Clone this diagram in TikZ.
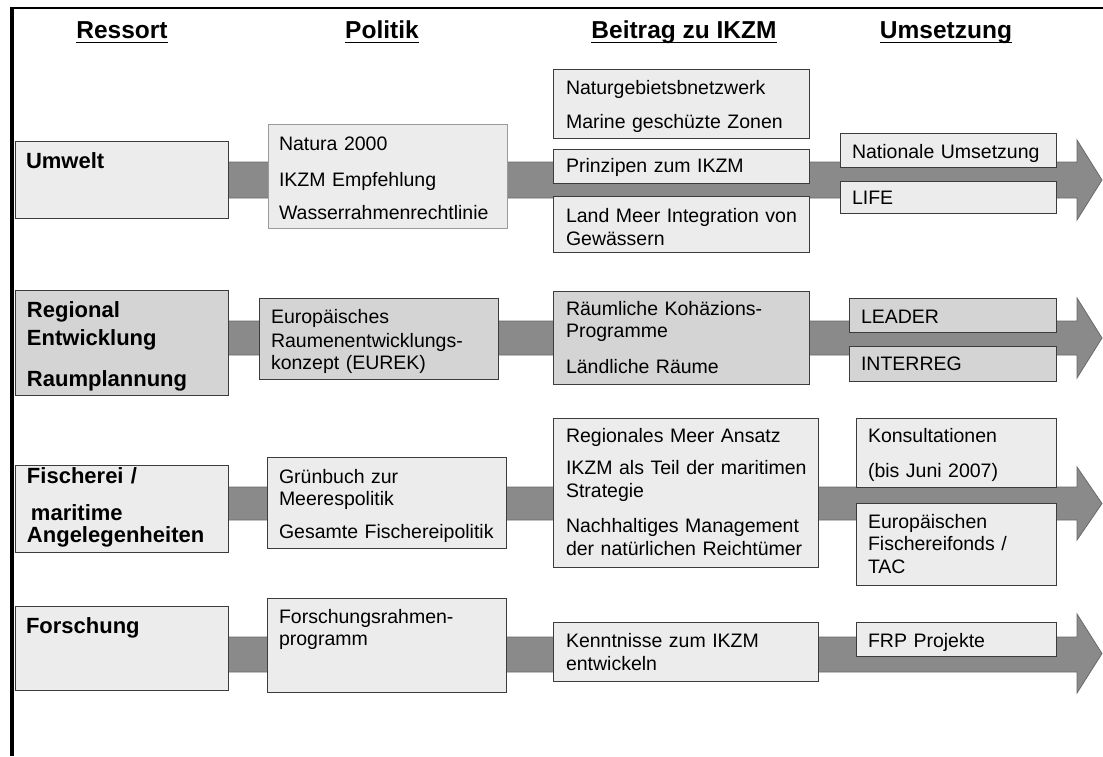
\documentclass[tikz,border=0pt]{standalone}
\usepackage{fontspec}
\setmainfont{Liberation Sans}
\definecolor{lt}{HTML}{ECECEC}
\definecolor{dk}{HTML}{D4D4D4}
\definecolor{bandfill}{HTML}{8A8A8A}
\definecolor{bandline}{HTML}{6A6A6A}
\definecolor{edge}{HTML}{3C3C3C}
\definecolor{natb}{HTML}{9A9A9A}
\tikzset{
  boxs/.style={draw=edge, line width=1pt, inner sep=0pt, outer sep=0pt, anchor=north west},
  txt/.style={anchor=base west, inner sep=0pt, outer sep=0pt, text width=300pt, align=left,
              font=\fontsize{19.5}{23}\selectfont},
  lbl/.style={txt, font=\bfseries\fontsize{22}{26}\selectfont},
  hdr/.style={anchor=base, inner sep=0pt, outer sep=0pt, font=\bfseries\fontsize{24.5}{28}\selectfont},
  bandarrow/.style={fill=bandfill, draw=bandline, line width=0.8pt},
  uline/.style={line width=1.5pt},
}
\newcommand\mkbox[6]{\node[boxs,#6,minimum width={(#4-#2)*1pt},minimum height={(#5-#3)*1pt}] (#1) at (#2,#3) {};}
\newcommand\mktext[5]{\node[#4] (#1) at (#2,#3) {#5};}
\newcommand\bandarr[4]{\draw[bandarrow] (120,#1) -- (1077,#1) -- (1077,#3) -- (1102,{(#3+#4)/2}) -- (1077,#4) -- (1077,#2) -- (120,#2) -- cycle;}
\begin{document}
\begin{tikzpicture}[x=1pt,y=-1pt]
\useasboundingbox (0,0) rectangle (1103,756);
\fill[white] (0,0) rectangle (1103,756);
% frame lines
\fill[black] (10,7) rectangle (14,756);
\fill[black] (10,7) rectangle (1103,9);
% headers
\node[hdr] (h1) at (122,38) {Ressort};
\node[hdr] (h2) at (382,38) {Politik};
\node[hdr] (h3) at (684,38) {Beitrag zu IKZM};
\node[hdr] (h4) at (946,38) {Umsetzung};
\foreach \h in {h1,h2,h3,h4}{\draw[uline] ([yshift=-4.5pt]\h.base west) -- ([yshift=-4.5pt]\h.base east);}
% bands
\bandarr{162}{198}{140}{220}
\bandarr{321}{355}{298}{378}
\bandarr{487}{520}{467}{540}
\bandarr{637}{672}{614}{693}
% row 1
\mkbox{res1}{15}{141}{228}{218}{fill=lt}
\mkbox{pol1}{268}{124}{507}{228}{fill=lt,draw=natb}
\mkbox{bei1a}{553}{69}{809}{138}{fill=lt}
\mkbox{bei1b}{553}{149}{809}{183}{fill=lt}
\mkbox{bei1c}{553}{196}{809}{252}{fill=lt}
\mkbox{ums1a}{840}{133}{1056}{167}{fill=lt}
\mkbox{ums1b}{840}{181}{1056}{213}{fill=lt}
\mktext{t_res1}{26}{168}{lbl}{Umwelt}
\mktext{t_pol1}{279}{150}{txt}{Natura 2000\\[13pt]IKZM Empfehlung\\[10pt]Wasserrahmenrechtlinie}
\mktext{t_bei1a}{566}{94}{txt}{Naturgebietsbnetzwerk\\[11pt]Marine geschüzte Zonen}
\mktext{t_bei1b}{566}{172}{txt}{Prinzipen zum IKZM}
\mktext{t_bei1c}{566}{222}{txt}{Land Meer Integration von\\Gewässern}
\mktext{t_ums1a}{852}{158}{txt}{Nationale Umsetzung}
\mktext{t_ums1b}{852}{204}{txt}{LIFE}
% row 2
\mkbox{res2}{15}{290}{228}{395}{fill=dk}
\mkbox{pol2}{259}{298}{498}{379}{fill=dk}
\mkbox{bei2}{553}{291}{809}{384}{fill=dk}
\mkbox{ums2a}{849}{298}{1056}{332}{fill=dk}
\mkbox{ums2b}{849}{346}{1056}{381}{fill=dk}
\mktext{t_res2}{27}{317}{lbl}{Regional\\[2pt]Entwicklung\\[15pt]Raumplannung}
\mktext{t_pol2}{271}{323}{txt}{Europäisches\\[1pt]Raumenentwicklungs-\\[-1pt]konzept (EUREK)}
\mktext{t_bei2}{566}{315}{txt}{Räumliche Kohäzions-\\[-1pt]Programme\\[13pt]Ländliche Räume}
\mktext{t_ums2a}{861}{323}{txt}{LEADER}
\mktext{t_ums2b}{861}{370}{txt}{INTERREG}
% row 3
\mkbox{res3}{15}{465}{228}{552}{fill=lt}
\mkbox{pol3}{267}{457}{506}{548}{fill=lt}
\mkbox{bei3}{553}{418}{818}{567}{fill=lt}
\mkbox{ums3a}{856}{418}{1056}{487}{fill=lt}
\mkbox{ums3b}{856}{503}{1056}{585}{fill=lt}
\mktext{t_res3}{27}{483}{lbl}{Fischerei /\\[11pt]\hspace*{4pt}maritime\\[-4pt]Angelegenheiten}
\mktext{t_pol3}{279}{483}{txt}{Grünbuch zur\\[-1pt]Meerespolitik\\[10pt]Gesamte Fischereipolitik}
\mktext{t_bei3}{566}{442}{txt}{Regionales Meer Ansatz\\[9pt]IKZM als Teil der maritimen\\[0pt]Strategie\\[12pt]Nachhaltiges Management\\[0pt]der natürlichen Reichtümer}
\mktext{t_ums3a}{868}{442}{txt}{Konsultationen\\[12pt](bis Juni 2007)}
\mktext{t_ums3b}{868}{528}{txt}{Europäischen\\[-1pt]Fischereifonds /\\TAC}
% row 4
\mkbox{res4}{15}{606}{228}{690}{fill=lt}
\mkbox{pol4}{267}{598}{506}{692}{fill=lt}
\mkbox{bei4}{553}{622}{818}{681}{fill=lt}
\mkbox{ums4}{856}{622}{1056}{656}{fill=lt}
\mktext{t_res4}{26}{633}{lbl}{Forschung}
\mktext{t_pol4}{279}{623}{txt}{Forschungsrahmen-\\[-1pt]programm}
\mktext{t_bei4}{566}{647}{txt}{Kenntnisse zum IKZM\\entwickeln}
\mktext{t_ums4}{868}{647}{txt}{FRP Projekte}
\end{tikzpicture}
\end{document}
